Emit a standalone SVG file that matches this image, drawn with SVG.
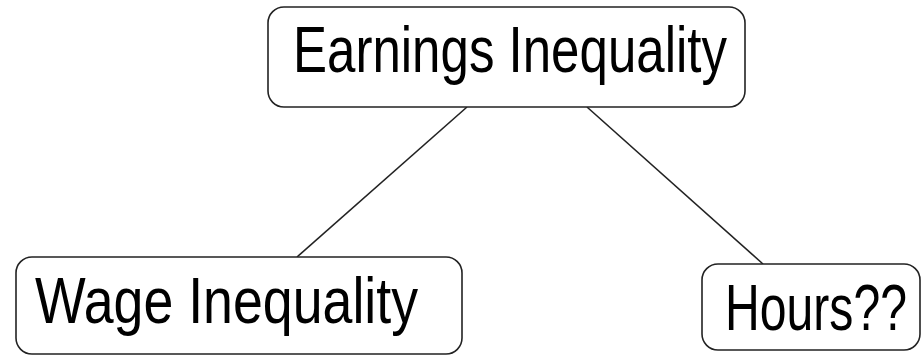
<svg xmlns="http://www.w3.org/2000/svg" width="922" height="357" viewBox="0 0 922 357">
  <style>
    .box { fill: #ffffff; stroke: #222222; stroke-width: 1.6; }
    .label { font-family: "Liberation Sans", "DejaVu Sans", sans-serif; font-size: 64px; fill: #000000; }
    .edge { stroke: #222222; stroke-width: 1.6; fill: none; }
  </style>
  <rect width="922" height="357" fill="#ffffff"/>
  <g id="connectors">
    <line class="edge" x1="467" y1="107" x2="297" y2="257"/>
    <line class="edge" x1="587" y1="107" x2="763" y2="264"/>
  </g>
  <g id="earnings">
    <rect class="box" x="268" y="7" width="477" height="100" rx="16" ry="16"/>
    <text class="label" x="293" y="72" textLength="434" lengthAdjust="spacingAndGlyphs">Earnings Inequality</text>
  </g>
  <g id="wage">
    <rect class="box" x="16" y="257" width="446" height="97" rx="16" ry="16"/>
    <text class="label" x="35" y="323" textLength="383" lengthAdjust="spacingAndGlyphs">Wage Inequality</text>
  </g>
  <g id="hours">
    <rect class="box" x="702" y="264" width="218" height="86" rx="16" ry="16"/>
    <text class="label" x="725" y="330" textLength="182" lengthAdjust="spacingAndGlyphs">Hours??</text>
  </g>
</svg>
